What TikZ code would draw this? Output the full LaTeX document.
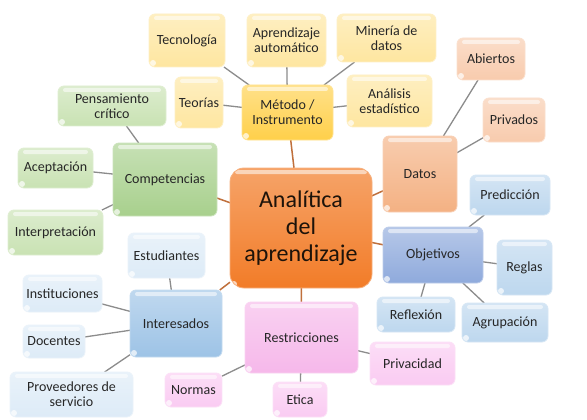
\documentclass[tikz,border=0pt]{standalone}
\usepackage{fontspec}
\setmainfont{Carlito}
\usetikzlibrary{backgrounds}
\definecolor{ylt}{HTML}{FEE6A0}
\definecolor{ydk}{HTML}{FFD04A}
\definecolor{glt}{HTML}{C9E2B3}
\definecolor{gdk}{HTML}{A8D08D}
\definecolor{olt}{HTML}{F8CBAD}
\definecolor{odk}{HTML}{F4B183}
\definecolor{cen}{HTML}{F27C28}
\definecolor{blt}{HTML}{BDD7EE}
\definecolor{bdk}{HTML}{8FAADC}
\definecolor{bmd}{HTML}{9DC3E6}
\definecolor{bxl}{HTML}{DDEBF7}
\definecolor{plt}{HTML}{FACBF2}
\definecolor{pdk}{HTML}{F6B8EA}
\definecolor{txt}{HTML}{262626}
\definecolor{gline}{HTML}{8C8C8C}
\definecolor{bline}{HTML}{C0703C}
\tikzset{
  box/.style={rectangle, rounded corners=6pt, inner sep=0pt, outer sep=0pt,
    top color=#1!65!white, bottom color=#1, draw=#1!60!white, line width=0.8pt,
    text=txt, align=center, font=\fontsize{14}{15}\selectfont,
    path picture={
      \fill[white,opacity=0.55,rounded corners=2pt]
        ([xshift=5pt,yshift=-2pt]path picture bounding box.north west) rectangle
        ([xshift=-5pt,yshift=-6pt]path picture bounding box.north east);
      \fill[white,opacity=0.7]
        ([xshift=4pt,yshift=4pt]path picture bounding box.south west) circle (3pt);
    }},
  gl/.style={draw=gline, line width=1.3pt},
  bl/.style={draw=bline, line width=1.5pt},
}
\pgfdeclarelayer{bgg}
\pgfdeclarelayer{bgl}
\pgfsetlayers{bgg,bgl,main}
\begin{document}
\begin{tikzpicture}[x=1pt,y=-1pt]
\useasboundingbox (0,0) rectangle (587,420);
% Método branch
\node[box=ylt, minimum width=76pt, minimum height=53pt] (tec) at (187,40.5) {Tecnología};
\node[box=ylt, minimum width=79pt, minimum height=53pt] (apr) at (286.5,40.5) {Aprendizaje\\automático};
\node[box=ylt, minimum width=99pt, minimum height=48pt] (min) at (386.5,38) {Minería de\\datos};
\node[box=ylt, minimum width=48pt, minimum height=51pt] (teo) at (199,102.5) {Teorías};
\node[box=ydk, minimum width=91pt, minimum height=55pt] (met) at (287.5,112.5) {Método /\\Instrumento};
\node[box=ylt, minimum width=85pt, minimum height=52pt] (ana) at (389.5,101) {Análisis\\estadístico};
% Competencias branch
\node[box=glt, minimum width=108pt, minimum height=40pt] (pen) at (112,106) {Pensamiento\\crítico};
\node[box=glt, minimum width=75pt, minimum height=40pt] (ace) at (55.5,168) {Aceptación};
\node[box=gdk, minimum width=104pt, minimum height=73pt] (com) at (165,179.5) {Competencias};
\node[box=glt, minimum width=95pt, minimum height=45pt] (itp) at (55.5,232.5) {Interpretación};
% Datos branch
\node[box=olt, minimum width=68pt, minimum height=42pt] (abi) at (491,59) {Abiertos};
\node[box=olt, minimum width=62pt, minimum height=44pt] (pri) at (514,120) {Privados};
\node[box=odk, minimum width=74pt, minimum height=76pt] (dat) at (420,174) {Datos};
% Objetivos branch
\node[box=blt, minimum width=80pt, minimum height=40pt] (pre) at (510,195) {Predicción};
\node[box=bdk, minimum width=100pt, minimum height=56pt] (obj) at (433,255) {Objetivos};
\node[box=blt, minimum width=55pt, minimum height=55pt] (reg) at (524.5,267.5) {Reglas};
\node[box=blt, minimum width=78pt, minimum height=35pt] (ref) at (416,314.5) {Reflexión};
\node[box=blt, minimum width=86pt, minimum height=39pt] (agr) at (505,322.5) {Agrupación};
% Restricciones branch
\node[box=pdk, minimum width=113pt, minimum height=71pt] (res) at (301.5,337.5) {Restricciones};
\node[box=plt, minimum width=85pt, minimum height=43pt] (prv) at (412.5,363.5) {Privacidad};
\node[box=plt, minimum width=54pt, minimum height=35pt] (eti) at (300,399.5) {Etica};
\node[box=plt, minimum width=57pt, minimum height=34pt] (nor) at (193.5,390) {Normas};
% Interesados branch
\node[box=bmd, minimum width=92pt, minimum height=67pt] (ite) at (176,323.5) {Interesados};
\node[box=bxl, minimum width=77pt, minimum height=45pt] (est) at (166.5,255.5) {Estudiantes};
\node[box=bxl, minimum width=79pt, minimum height=37pt] (ins) at (62.5,293.5) {Instituciones};
\node[box=bxl, minimum width=62pt, minimum height=33pt] (doc) at (54,341.5) {Docentes};
\node[box=bxl, minimum width=123pt, minimum height=45pt] (pro) at (71.5,394.5) {Proveedores de\\servicio};
% Center
\node[box=cen, rounded corners=14pt, minimum width=142pt, minimum height=120pt,
  top color=cen!70!white, bottom color=cen, text={black!85!brown},
  font=\fontsize{24}{27}\selectfont] (ctr) at (301,228) {Analítica\\del\\aprendizaje};
\begin{pgfonlayer}{bgg}
\fill[white] (0,0) rectangle (587,420);
\end{pgfonlayer}
\begin{pgfonlayer}{bgl}
\foreach \a/\b in {tec/met, apr/met, min/met, teo/met, ana/met,
  pen/com, ace/com, itp/com, abi/dat, pri/dat,
  pre/obj, reg/obj, ref/obj, agr/obj,
  prv/res, nor/res, eti/res,
  est/ite, ins/ite, doc/ite, pro/ite}
  \draw[gl] (\a) -- (\b);
\foreach \a in {met, com, dat, obj, res, ite}
  \draw[bl] (\a) -- (ctr);
\end{pgfonlayer}
\end{tikzpicture}
\end{document}
